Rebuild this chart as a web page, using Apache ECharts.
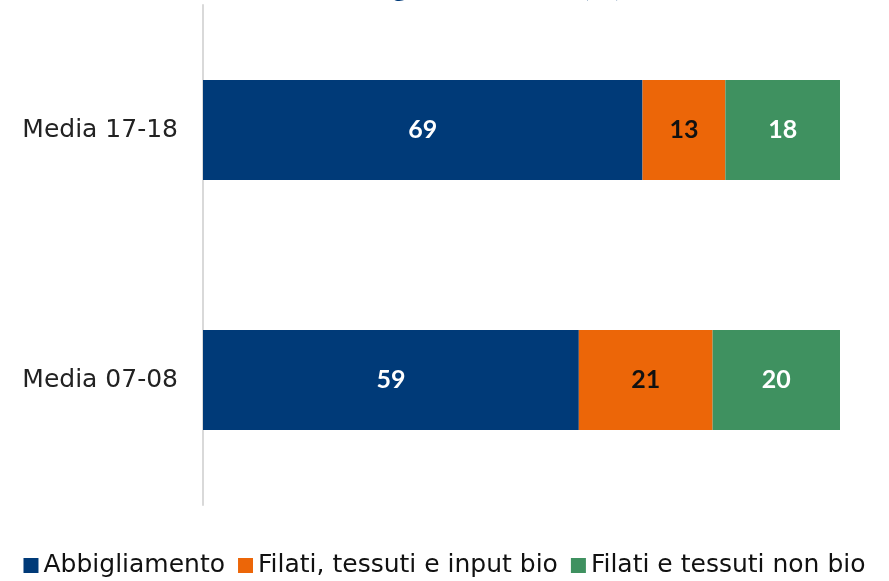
<!DOCTYPE html>
<html><head><meta charset="utf-8">
<script src="https://cdn.jsdelivr.net/npm/echarts@6/dist/echarts.min.js"></script>
<style>html,body{margin:0;padding:0;background:#fff}#c{width:889px;height:581px}</style>
</head><body><div id="c"></div>
<script>
const categories = ['Media 07-08', 'Media 17-18'];
const seriesNames = ['Abbigliamento', 'Filati, tessuti e input bio', 'Filati e tessuti non bio'];
const abbigliamento = [59, 69];
const filatiBio = [21, 13];
const filatiNonBio = [20, 18];
const titleText = 'Peso dei segmenti nel bio (%)';

const colors = ['#003A78', '#EC6608', '#3F9160'];
const labelColors = ['#ffffff', '#111111', '#ffffff'];
const values = [abbigliamento, filatiBio, filatiNonBio];
const font = '"DejaVu Sans", sans-serif';

const chart = echarts.init(document.getElementById('c'), null, {renderer: 'canvas'});
chart.setOption({
  animation: false,
  title: {
    text: titleText, left: 243, top: -33,
    textStyle: {color: '#003A78', fontSize: 29, fontWeight: 'bold', fontFamily: 'Lato, sans-serif'}
  },
  grid: {left: 203, right: 49, top: 5, bottom: 76, containLabel: false},
  legend: {
    bottom: -2, left: 'center', itemWidth: 15, itemHeight: 15, itemGap: 13,
    icon: 'rect',
    textStyle: {fontSize: 25, color: '#111', fontFamily: font, padding: [0, 0, 0, 0]},
    data: seriesNames
  },
  xAxis: {type: 'value', min: 0, max: 100, show: false},
  yAxis: {
    type: 'category', data: categories,
    axisLine: {show: true, lineStyle: {color: '#D9D9D9', width: 2}},
    axisTick: {show: false},
    axisLabel: {fontSize: 25, color: '#222', margin: 25, fontFamily: font}
  },
  series: seriesNames.map((n, i) => ({
    name: n, type: 'bar', stack: 'tot', barWidth: 100,
    data: values[i],
    itemStyle: {color: colors[i]},
    label: {show: true, position: 'inside', color: labelColors[i], fontSize: 25, fontWeight: 'bold', fontFamily: 'Lato, sans-serif'}
  }))
});
</script></body></html>
